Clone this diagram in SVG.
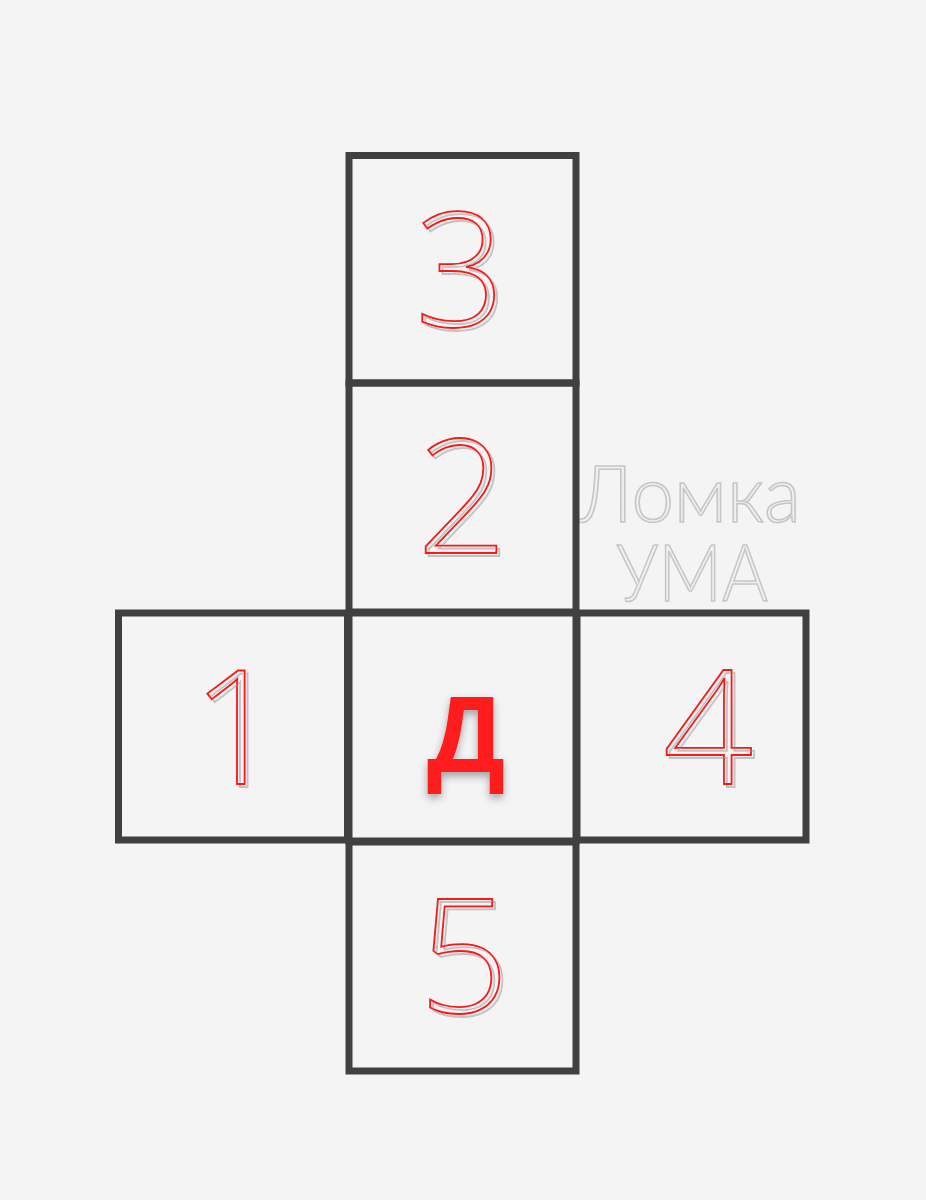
<svg xmlns="http://www.w3.org/2000/svg" width="926" height="1200" viewBox="0 0 926 1200">
<defs>
<style>
.sq{fill:none;stroke:#404040;stroke-width:7}
.dg{font-family:"Open Sans","DejaVu Sans",sans-serif;font-weight:300;font-size:158px;text-anchor:middle;fill:none;stroke:#ff1414;stroke-width:1.8;filter:url(#gs)}
.wm{font-family:"Lato","Open Sans",sans-serif;font-weight:300;font-size:78px;fill:#f6eeee;stroke:#c6c6c6;stroke-width:1.6;text-anchor:middle}
</style>
<filter id="gs" x="-20%" y="-20%" width="140%" height="140%">
<feFlood flood-color="#c2c2c2"/>
<feComposite in2="SourceAlpha" operator="in"/>
<feOffset dx="3" dy="3"/>
<feMerge><feMergeNode/><feMergeNode in="SourceGraphic"/></feMerge>
</filter>
<filter id="ds" x="-30%" y="-30%" width="160%" height="160%">
<feGaussianBlur in="SourceAlpha" stdDeviation="4"/>
<feOffset dx="0" dy="4"/>
<feComponentTransfer><feFuncA type="linear" slope="0.35"/></feComponentTransfer>
<feMerge><feMergeNode/><feMergeNode in="SourceGraphic"/></feMerge>
</filter>
</defs>
<rect width="926" height="1200" fill="#f4f4f4"/>
<g id="watermark">
<text class="wm"><tspan x="690" y="522" textLength="222" lengthAdjust="spacingAndGlyphs">Ломка</tspan><tspan x="692" y="601" textLength="152" lengthAdjust="spacingAndGlyphs">УМА</tspan></text>
</g>
<g id="face3"><rect class="sq" x="349" y="155.5" width="227" height="227.5"/>
<text class="dg" x="460" y="326">3</text></g>
<g id="face2"><rect class="sq" x="349" y="383" width="227" height="229"/>
<text class="dg" x="462" y="553">2</text></g>
<g id="face1"><rect class="sq" x="118.5" y="613" width="229" height="227"/>
<text class="dg" x="237" y="784">1</text></g>
<g id="faceD"><rect class="sq" x="349" y="613" width="227" height="228"/>
<text x="466" y="772" font-family="Liberation Sans, Arial, sans-serif" font-weight="bold" font-size="110" fill="#ff1a1a" text-anchor="middle" filter="url(#ds)">Д</text></g>
<g id="face4"><rect class="sq" x="577" y="613" width="229" height="227"/>
<text class="dg" x="708" y="784">4</text></g>
<g id="face5"><rect class="sq" x="349" y="842" width="227" height="229"/>
<text class="dg" x="464" y="1012">5</text></g>
</svg>
